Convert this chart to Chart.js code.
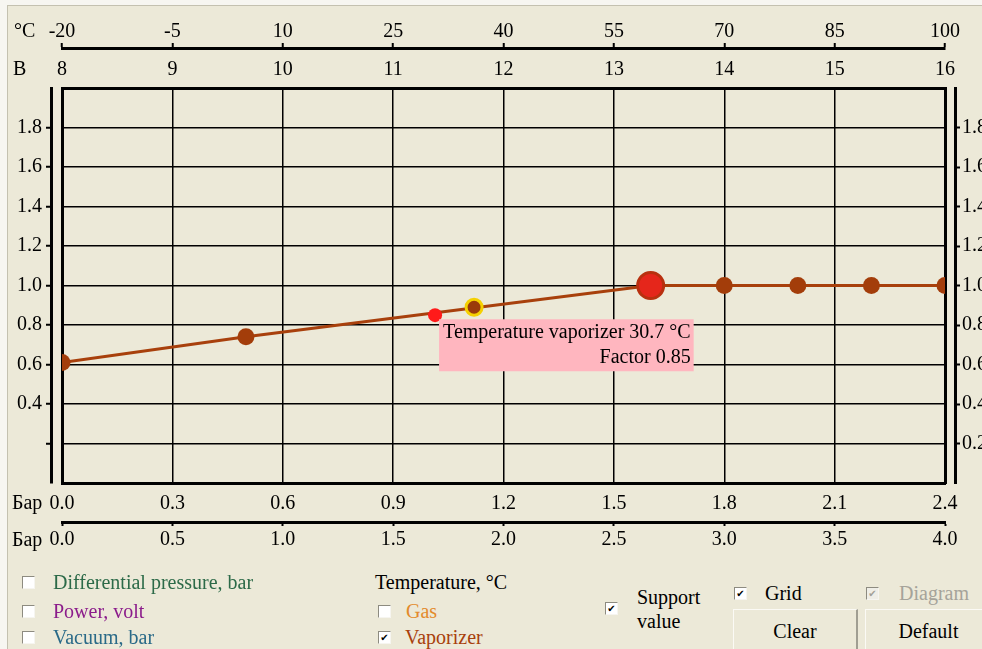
<!DOCTYPE html>
<html lang="en">
<head>
<meta charset="UTF-8" />
<title>Vaporizer factor</title>
<script src="https://cdn.jsdelivr.net/npm/chart.js"></script>
<style>
  body {
    margin: 0;
    width: 982px;
    height: 649px;
    overflow: hidden;
    background: #f7f6f1;
    font-family: "Liberation Serif", "Times New Roman", serif;
    font-size: 20px;
    color: #000;
  }
  #panel {
    position: absolute; left: 7px; top: 5px; right: 0; bottom: 0;
    background: #ece9d8;
    border-left: 1px solid #c4c1b0;
    border-top: 1px solid #c4c1b0;
  }
  #wrap { position: absolute; left: 0; top: 0; width: 982px; height: 560px; }
  .t { position: absolute; line-height: 24px; white-space: nowrap; }
  .cb {
    position: absolute; width: 11px; height: 11px;
    background: #fff;
    border-top: 1px solid #8d8b80; border-left: 1px solid #8d8b80;
    border-right: 1px solid #f6f5f0; border-bottom: 1px solid #f6f5f0;
    font: bold 10px "DejaVu Sans", sans-serif; line-height: 11px; text-align: center;
  }
  .cb.off { background: #efeee7; color: #a3a198; }
  .btn {
    position: absolute; top: 609px; height: 42px; line-height: 42px; text-align: center;
    border-top: 1px solid #fbfaf5; border-left: 1px solid #fbfaf5; border-right: 2px solid #a09e92;
  }
</style>
</head>
<body>
  <div id="panel"></div>
  <div id="wrap"><canvas id="vapChart"></canvas></div>

  <!-- unit captions of the axes -->
  <div class="t" style="left:14px; top:18px">°C</div>
  <div class="t" style="left:13px; top:56px">B</div>
  <div class="t" style="left:12px; top:490px">Бар</div>
  <div class="t" style="left:12px; top:527px">Бар</div>

  <!-- control panel -->
  <div class="cb" style="left:22px; top:576px"></div>
  <div class="t" style="left:53px; top:570px; color:#2c6a48">Differential pressure, bar</div>
  <div class="cb" style="left:22px; top:605px"></div>
  <div class="t" style="left:53px; top:599px; color:#8b1c8b">Power, volt</div>
  <div class="cb" style="left:22px; top:631px"></div>
  <div class="t" style="left:53px; top:625px; color:#2a6a88">Vacuum, bar</div>

  <div class="t" style="left:375px; top:570px">Temperature, °C</div>
  <div class="cb" style="left:378px; top:605px"></div>
  <div class="t" style="left:406px; top:599px; color:#e38b2c">Gas</div>
  <div class="cb" style="left:378px; top:631px">✔</div>
  <div class="t" style="left:405px; top:625px; color:#a8400c">Vaporizer</div>

  <div class="cb" style="left:605px; top:602px">✔</div>
  <div class="t" style="left:637px; top:585px">Support</div>
  <div class="t" style="left:637px; top:609px">value</div>

  <div class="cb" style="left:734px; top:587px">✔</div>
  <div class="t" style="left:765px; top:581px">Grid</div>
  <div class="cb off" style="left:866px; top:587px">✔</div>
  <div class="t" style="left:899px; top:581px; color:#a5a39a">Diagram</div>

  <div class="btn" style="left:733px; width:122px">Clear</div>
  <div class="btn" style="left:865px; width:125px">Default</div>

  <script>
    // axis ticks
    const tempTicks = [-20, -5, 10, 25, 40, 55, 70, 85, 100];
    const voltTicks = [8, 9, 10, 11, 12, 13, 14, 15, 16];
    const barTicksA = [0, 0.3, 0.6, 0.9, 1.2, 1.5, 1.8, 2.1, 2.4];
    const barTicksB = [0, 0.5, 1.0, 1.5, 2.0, 2.5, 3.0, 3.5, 4.0];
    const factorTicks = [0.2, 0.4, 0.6, 0.8, 1.0, 1.2, 1.4, 1.6, 1.8];
    const leftLabels = ['', '0.4', '0.6', '0.8', '1.0', '1.2', '1.4', '1.6', '1.8'];
    const rightLabels = ['0.2', '0.4', '0.6', '0.8', '1.0', '1.2', '1.4', '1.6', '1.8'];

    // vaporizer curve (temperature °C -> factor)
    const vapTemp = [-20, 5, 60, 70, 80, 90, 100];
    const vapFactor = [0.61, 0.74, 1.0, 1.0, 1.0, 1.0, 1.0];
    // support value
    const supportTemp = [60];
    const supportFactor = [1.0];
    // current reading (tooltip)
    const currentTemp = [30.7];
    const currentFactor = [0.85];
    // cursor marker
    const cursorTemp = [36];
    const cursorFactor = [0.89];

    const SERIF = '"Liberation Serif", "Times New Roman", serif';
    Chart.defaults.font.family = SERIF;
    Chart.defaults.font.size = 20;
    Chart.defaults.color = '#000';

    const pts = (xs, ys) => xs.map((x, i) => ({ x: x, y: ys[i] }));
    const setTicks = values => s => { s.ticks = values.map(v => ({ value: v })); };

    Chart.Tooltip.positioners.corner = function (items) {
      if (!items.length) return false;
      const el = items[0].element;
      return { x: el.x + 4, y: el.y + 4 };
    };

    const axisBorder = { display: true, color: '#000', width: 3 };

    const chart = new Chart(document.getElementById('vapChart'), {
      type: 'line',
      data: {
        datasets: [
          {
            label: 'support',
            data: pts(supportTemp, supportFactor),
            showLine: false,
            pointRadius: 13,
            pointBackgroundColor: '#e5261b',
            pointBorderColor: '#b8300f',
            pointBorderWidth: 3,
            clip: 0,
            order: 0
          },
          {
            label: 'current',
            data: pts(currentTemp, currentFactor),
            showLine: false,
            pointRadius: 7,
            pointBackgroundColor: '#ff1a1a',
            pointBorderWidth: 0,
            clip: 0,
            order: 1
          },
          {
            label: 'cursor',
            data: pts(cursorTemp, cursorFactor),
            showLine: false,
            pointRadius: 8,
            pointBackgroundColor: '#9a3a0a',
            pointBorderColor: '#f5d000',
            pointBorderWidth: 3,
            clip: 0,
            order: 2
          },
          {
            label: 'Vaporizer',
            data: pts(vapTemp, vapFactor),
            borderColor: '#a8400c',
            borderWidth: 3,
            tension: 0,
            pointRadius: 8.5,
            pointBackgroundColor: '#a33d0a',
            pointBorderWidth: 0,
            clip: 0,
            order: 3
          }
        ]
      },
      options: {
        responsive: true,
        maintainAspectRatio: false,
        animation: false,
        events: [],
        layout: { padding: 0 },
        scales: {
          x: {
            type: 'linear', axis: 'x', position: 'top', weight: 1,
            min: -20, max: 100,
            afterBuildTicks: setTicks(tempTicks),
            afterFit: s => { s.height = 48; },
            ticks: { padding: -1, autoSkip: false, maxRotation: 0, callback: v => String(v) },
            grid: { color: '#000', lineWidth: 1.5, tickLength: 5, tickWidth: 2, tickColor: '#000' },
            border: axisBorder
          },
          xV: {
            type: 'linear', axis: 'x', position: 'top', weight: 0,
            min: 8, max: 16,
            afterBuildTicks: setTicks(voltTicks),
            afterFit: s => { s.height = 40; },
            ticks: { padding: 6, autoSkip: false, maxRotation: 0, callback: v => String(v) },
            grid: { display: false, drawTicks: false },
            border: axisBorder
          },
          xP: {
            type: 'linear', axis: 'x', position: 'bottom', weight: 0,
            min: 0, max: 2.4,
            afterBuildTicks: setTicks(barTicksA),
            afterFit: s => { s.height = 39; },
            ticks: { padding: 9, autoSkip: false, maxRotation: 0, callback: v => v.toFixed(1) },
            grid: { display: false, drawTicks: false },
            border: axisBorder
          },
          xD: {
            type: 'linear', axis: 'x', position: 'bottom', weight: 1,
            min: 0, max: 4,
            afterBuildTicks: setTicks(barTicksB),
            afterFit: s => { s.height = 38; },
            ticks: { padding: 2, autoSkip: false, maxRotation: 0, callback: v => v.toFixed(1) },
            grid: { drawOnChartArea: false, color: '#000', tickLength: 4, tickWidth: 2 },
            border: axisBorder
          },
          y: {
            type: 'linear', axis: 'y', position: 'left', weight: 1,
            min: 0, max: 2,
            afterBuildTicks: setTicks(factorTicks),
            afterFit: s => { s.width = 51; },
            ticks: { padding: 4, autoSkip: false, callback: (v, i) => leftLabels[i] },
            grid: { color: '#000', lineWidth: 1.5, tickLength: 5, tickWidth: 2, tickColor: '#000' },
            border: axisBorder
          },
          yGapL: {
            type: 'linear', axis: 'y', position: 'left', weight: 0,
            min: 0, max: 2,
            afterFit: s => { s.width = 11; },
            ticks: { display: false },
            grid: { display: false, drawTicks: false },
            border: axisBorder
          },
          yGapR: {
            type: 'linear', axis: 'y', position: 'right', weight: 0,
            min: 0, max: 2,
            afterFit: s => { s.width = 10; },
            ticks: { display: false },
            grid: { display: false, drawTicks: false },
            border: axisBorder
          },
          yR: {
            type: 'linear', axis: 'y', position: 'right', weight: 1,
            min: 0, max: 2,
            afterBuildTicks: setTicks(factorTicks),
            afterFit: s => { s.width = 27; },
            ticks: { padding: 2, autoSkip: false, callback: (v, i) => rightLabels[i] },
            grid: { drawOnChartArea: false, color: '#000', tickLength: 5, tickWidth: 2 },
            border: axisBorder
          }
        },
        plugins: {
          legend: { display: false },
          tooltip: {
            enabled: true,
            animation: false,
            position: 'corner',
            xAlign: 'left',
            yAlign: 'top',
            backgroundColor: '#ffb6bf',
            bodyColor: '#000',
            bodyFont: { family: SERIF, size: 20 },
            bodyAlign: 'right',
            bodySpacing: 1,
            padding: { top: 2, bottom: 1, left: 4, right: 3 },
            caretSize: 0,
            caretPadding: 0,
            cornerRadius: 0,
            borderWidth: 0,
            displayColors: false,
            filter: item => item.dataset.label === 'current',
            callbacks: {
              title: () => '',
              label: c => ['Temperature vaporizer ' + c.parsed.x.toFixed(1) + ' °C',
                           'Factor ' + c.parsed.y.toFixed(2)]
            }
          }
        }
      }
    });

    chart.tooltip.setActiveElements([{ datasetIndex: 1, index: 0 }], { x: 0, y: 0 });
    chart.update();
  </script>
</body>
</html>
